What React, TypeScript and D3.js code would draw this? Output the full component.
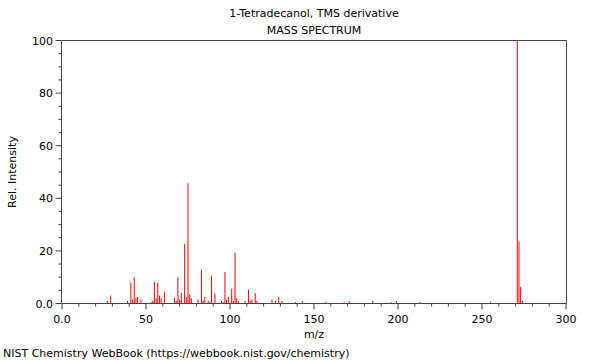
import React from "react";
import * as d3 from "d3";

const title1 = "1-Tetradecanol, TMS derivative";
const title2 = "MASS SPECTRUM";
const xLabel = "m/z";
const yLabel = "Rel. Intensity";
const footer = "NIST Chemistry WebBook (https://webbook.nist.gov/chemistry)";

const mz = [27, 29, 39, 41, 42, 43, 44, 45, 47, 53, 54, 55, 56, 57, 58, 59, 61, 67, 68, 69, 70, 71, 73, 74, 75, 76, 77, 81, 83, 84, 85, 87, 88, 89, 91, 95, 96, 97, 98, 99, 101, 102, 103, 104, 105, 109, 111, 112, 113, 115, 116, 125, 127, 129, 131, 139, 143, 145, 157, 168, 171, 185, 196, 199, 213, 255, 271, 272, 273, 274];
const intensity = [1.0, 3.0, 1.0, 8.0, 1.5, 10.0, 2.0, 2.5, 1.5, 0.6, 1.0, 8.3, 2.0, 8.0, 3.0, 2.0, 4.5, 2.3, 1.0, 10.0, 1.5, 4.0, 22.6, 2.5, 45.7, 3.4, 2.0, 1.5, 12.9, 1.0, 2.5, 1.0, 0.6, 10.6, 3.8, 1.0, 0.5, 12.0, 1.5, 2.5, 5.7, 1.0, 19.3, 2.0, 0.8, 1.0, 5.2, 1.0, 1.5, 4.0, 1.0, 1.5, 1.0, 2.5, 1.0, 0.5, 1.0, 0.3, 0.6, 0.5, 1.0, 1.0, 0.5, 1.0, 0.6, 0.6, 100, 23.5, 6.3, 1.0];

const xMajor = [0, 50, 100, 150, 200, 250, 300];
const xMajorLabels = ["0.0", "50", "100", "150", "200", "250", "300"];
const yMajor = [0, 20, 40, 60, 80, 100];
const yMajorLabels = ["0.0", "20", "40", "60", "80", "100"];

export default function App() {
  const W = 600, H = 360;
  const x = d3.scaleLinear().domain([0, 300]).range([62, 566]);
  const y = d3.scaleLinear().domain([0, 100]).range([303.5, 40.5]);
  const xMinor = d3.range(0, 301, 10);
  const yMinor = d3.range(0, 101, 5);
  const axisColor = "#444";
  const font = "'DejaVu Sans', sans-serif";
  const left = 61.5, right = 566.5, top = 40.5, bottom = 303.5;
  return (
    <svg width={W} height={H} style={{ position: "absolute", left: 0, top: 0 }} fontFamily={font}>
      <rect width={W} height={H} fill="#fff" />
      <text x={314} y={17} fontSize={11} textAnchor="middle" fill="#000">{title1}</text>
      <text x={314} y={34} fontSize={11} textAnchor="middle" fill="#000">{title2}</text>
      {mz.map((m, i) => (
        <line key={m} x1={x(m)} x2={x(m)} y1={y(0)} y2={y(intensity[i])} stroke="#ff0000" strokeWidth={1} />
      ))}
      <g stroke={axisColor} strokeWidth={1} fill="none">
        <line x1={left} x2={right} y1={top} y2={top} />
        <line x1={right} x2={right} y1={top} y2={bottom} />
        <line x1={left} x2={left} y1={top} y2={bottom} />
        <line x1={left} x2={right} y1={bottom} y2={bottom} />
        {xMinor.map((v) => (
          <line key={"xm" + v} x1={x(v)} x2={x(v)} y1={bottom} y2={bottom + (v % 50 === 0 ? 6 : 3)} />
        ))}
        {yMinor.map((v) => (
          <line key={"ym" + v} x1={left} x2={left - (v % 20 === 0 ? 6 : 3)} y1={y(v)} y2={y(v)} />
        ))}
      </g>
      {xMajor.map((v, i) => (
        <text key={"xl" + v} x={x(v)} y={323} fontSize={11} textAnchor="middle" fill="#000">{xMajorLabels[i]}</text>
      ))}
      {yMajor.map((v, i) => (
        <text key={"yl" + v} x={53} y={y(v) + 4} fontSize={11} textAnchor="end" fill="#000">{yMajorLabels[i]}</text>
      ))}
      <text x={314} y={338} fontSize={11} textAnchor="middle" fill="#000">{xLabel}</text>
      <text transform={`translate(16,172) rotate(-90)`} fontSize={11} textAnchor="middle" fill="#000">{yLabel}</text>
      <text x={3} y={357} fontSize={11} fill="#000">{footer}</text>
    </svg>
  );
}
